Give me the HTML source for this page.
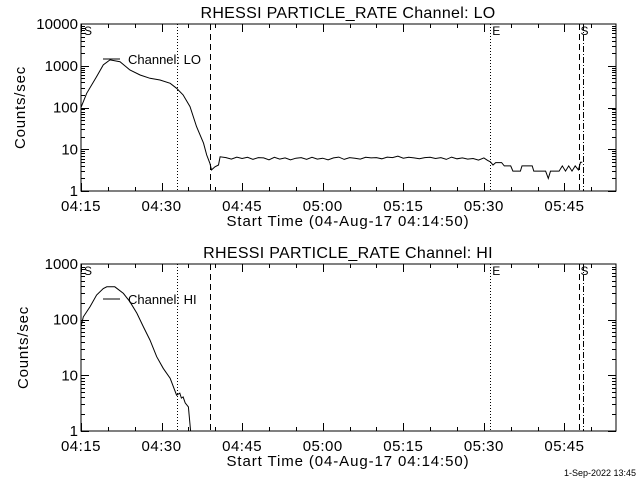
<!DOCTYPE html>
<html><head><meta charset="utf-8">
<style>
html,body{margin:0;padding:0;background:#fff;}
svg{display:block;}
text{font-family:"Liberation Sans",sans-serif;fill:#000;}
</style></head>
<body>
<svg id="c" width="640" height="480" viewBox="0 0 640 480">
<rect width="640" height="480" fill="#fff"/>
</svg>
<script>
// data: minutes after 04:15 and counts/sec
const loTimes=[0,1.06,2.9,4.15,5.4,7.26,9.1,11,12.85,14.7,16.6,17.8,19,20.3,21.5,22.8,23.4,24,24.3,24.95,25.6,25.9,
27,28,29,30,31,32,33,34,35,36,37,38,39,40,41,42,43,44,45,46,47,48,49,50,51,52,53,54,55,56,57,58,59,60,61,62,63,64,65,66,67,68,69,70,71,72,73,74,75,75.7,
76.2,76.7,77.2,78.3,78.8,80,80.4,81.8,82.1,84,84.3,86.5,87,87.4,89,89.6,90.2,90.8,91.4,92,92.6,93,93.3];
const loValues=[100,219,550,1050,1380,1250,790,600,500,455,380,288,200,105,35,14,7.3,4.6,3.2,3.8,4.2,6.6,
6.3,5.8,6.5,6.0,6.4,5.7,6.3,6.2,5.6,6.4,5.8,6.2,5.6,6.1,6.3,5.7,6.4,5.8,6.1,5.6,6.2,6.5,5.7,6.3,6.1,5.8,6.4,6.2,6.3,5.9,6.5,6.3,6.8,6.1,6.4,6.2,5.9,6.3,6.4,6.0,6.3,5.7,6.5,5.9,6.2,5.8,6.0,5.5,6.2,5.4,
5.0,4.2,4.8,4.8,4.0,4.0,3.0,3.0,4.0,4.0,3.0,3.0,2.0,3.0,3.0,4.0,3.0,4.0,3.0,4.0,3.2,4.9,4.9];
const hiTimes=[0,0.43,1.68,2.9,4.15,4.8,6.3,7.9,9.1,10.4,11.6,12.85,14.1,15.3,16.6,17.8,18.4,18.7,19,19.4,20,20.4];
const hiValues=[75,112,170,277,363,390,390,296,210,130,75,43,21.6,13.4,8.8,4.4,4.8,3.9,4.1,3.2,2.7,1];
const xTickLabels=["04:15","04:30","04:45","05:00","05:15","05:30","05:45"];
const loYTickLabels=["1","10","100","1000","10000"];
const hiYTickLabels=["1","10","100","1000"];
const markerTimes=[17.9,24,76.2,92.8,93.4];

const NS="http://www.w3.org/2000/svg";
const svg=document.getElementById('c');
const X0=81,X1=616,PXMIN=(616-81)/99.6;
function xs(t){return X0+t*PXMIN;}
function mk(tag,attrs,parent){const e=document.createElementNS(NS,tag);for(const k in attrs)e.setAttribute(k,attrs[k]);(parent||svg).appendChild(e);return e;}
function txt(s,x,y,anchor,size,parent){const e=mk('text',{x:x,y:y,'text-anchor':anchor,'font-size':size},parent);e.textContent=s;return e;}

function panel(name,top,bot,decades,yLabels,times,values,title,legend){
  const g=mk('g',{});
  
  
  const ys=v=>bot-(Math.log10(v))*(bot-top)/decades;
  const clip=mk('clipPath',{id:'clip-'+name},g);
  mk('rect',{x:X0,y:top,width:X1-X0,height:bot-top},clip);
  const frame=mk('rect',{x:X0,y:top,width:X1-X0,height:bot-top,fill:'none',stroke:'#000','stroke-width':1},g);
  
  
  for(let m=0;m<=99;m+=5){
    const x=Math.round(xs(m))+0.5;const L=(m%15===0)?8:4;
    mk('line',{x1:x,y1:bot,x2:x,y2:bot-L,stroke:'#000'},g);
    mk('line',{x1:x,y1:top,x2:x,y2:top+L,stroke:'#000'},g);
  }
  xTickLabels.forEach((s,i)=>{const t=txt(s,xs(i*15),bot+20,'middle',15,g);
    t.setAttribute('letter-spacing','0.5');
    
    });
  for(let d=0;d<decades;d++){for(let k=1;k<10;k++){
    const v=k*Math.pow(10,d);const y=Math.round(ys(v))+0.5;const L=k===1?8:4;
    mk('line',{x1:X0,y1:y,x2:X0+L,y2:y,stroke:'#000'},g);
    mk('line',{x1:X1,y1:y,x2:X1-L,y2:y,stroke:'#000'},g);
  }}
  yLabels.forEach((s,i)=>{const t=txt(s,78,ys(Math.pow(10,i))+5,'end',15,g);
    
    });
  const styles=['1,2','6,4','1,2','6,4','6,2,1,2'];
  markerTimes.forEach((t,i)=>{const x=Math.round(xs(t))+0.5;
    const l=mk('line',{x1:x,y1:top,x2:x,y2:bot,stroke:'#000','stroke-dasharray':styles[i]},g);
    
    });
  txt('S',xs(0)+3,top+11,'start',12,g);
  txt('E',xs(markerTimes[2])+2,top+11,'start',12,g);
  txt('S',xs(markerTimes[3])+1,top+11,'start',12,g);
  const pts=times.map((t,i)=>xs(t).toFixed(1)+','+ys(values[i]).toFixed(1)).join(' ');
  const p=mk('polyline',{points:pts,fill:'none',stroke:'#000','stroke-width':1,'clip-path':'url(#clip-'+name+')'},g);
  
  
  if(name==='hi'){const lt=times.length-1;
    mk('line',{x1:xs(times[lt]),y1:ys(values[lt]),x2:xs(times[lt])+0.5,y2:bot,stroke:'#000'},g);}
  const ly=legend;
  mk('line',{x1:103,y1:ly,x2:120,y2:ly,stroke:'#000'},g);
  const lt=txt('Channel: '+title.split('Channel: ')[1],128,ly+5,'start',13,g);
  
  
  const tt=txt(title,348,top-6,'middle',16,g);
  tt.setAttribute('letter-spacing','0.3');
  
  
  const xt=txt('Start Time (04-Aug-17 04:14:50)',348,bot+35,'middle',15,g);
  xt.setAttribute('letter-spacing','0.9');
  
  
  const cy=(top+bot)/2;
  const yt=txt('Counts/sec',0,0,'middle',15,g);
  yt.setAttribute('letter-spacing','0.8');
  yt.setAttribute('transform','translate('+(name==='lo'?25:28)+','+cy+') rotate(-90)');
  
  
}
panel('lo',24,191,4,loYTickLabels,loTimes,loValues,'RHESSI PARTICLE_RATE Channel: LO',59);
panel('hi',264,431,3,hiYTickLabels,hiTimes,hiValues,'RHESSI PARTICLE_RATE Channel: HI',299);
const ft=txt('1-Sep-2022 13:45',636,476,'end',9);


</script>
</body></html>
